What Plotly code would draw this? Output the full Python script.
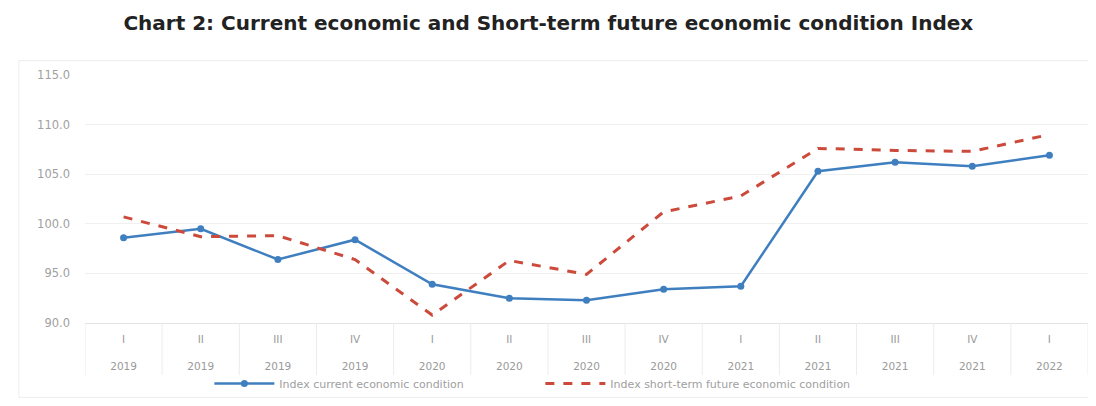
import plotly.graph_objects as go

quarters = ["I", "II", "III", "IV", "I", "II", "III", "IV", "I", "II", "III", "IV", "I"]
years = ["2019", "2019", "2019", "2019", "2020", "2020", "2020", "2020", "2021", "2021", "2021", "2021", "2022"]
current_index = [98.6, 99.5, 96.4, 98.4, 93.9, 92.5, 92.3, 93.4, 93.7, 105.3, 106.2, 105.8, 106.9]
future_index = [100.7, 98.7, 98.8, 96.4, 90.8, 96.3, 94.9, 101.2, 102.8, 107.6, 107.4, 107.3, 109.0]
y_ticks = [90, 95, 100, 105, 110, 115]

x = list(range(len(quarters)))
ticktext = [f"{q}<br><br>{y}" for q, y in zip(quarters, years)]

fig = go.Figure()
fig.add_trace(go.Scatter(
    x=x, y=current_index, mode="lines+markers",
    name="Index current economic condition",
    line=dict(color="#3f7fbf", width=2.5),
    marker=dict(size=7, color="#3f7fbf"),
))
fig.add_trace(go.Scatter(
    x=x, y=future_index, mode="lines",
    name="Index short-term future economic condition",
    line=dict(color="#cc4a3c", width=3, dash="dash"),
))

shapes = []
for i in range(len(quarters) + 1):
    shapes.append(dict(type="line", xref="x", yref="paper",
                       x0=i - 0.5, x1=i - 0.5, y0=0, y1=-0.21,
                       line=dict(color="#ececec", width=1)))
shapes.append(dict(type="rect", xref="paper", yref="paper",
                   x0=-0.066, x1=1.002, y0=-0.30, y1=1.058,
                   line=dict(color="#eeeeee", width=1), layer="below"))

fig.update_layout(
    width=1096, height=406,
    margin=dict(l=77, r=16, t=67, b=91, autoexpand=False),
    paper_bgcolor="white", plot_bgcolor="white",
    title=dict(text="<b>Chart 2: Current economic and Short-term future economic condition Index</b>",
               x=0.493, xanchor="center", y=0.963, yanchor="middle",
               font=dict(family="DejaVu Sans, sans-serif", size=20, color="#222222")),
    showlegend=True,
    legend=dict(orientation="h", x=0.454, xanchor="center", y=-0.185, yanchor="top",
                bgcolor="rgba(0,0,0,0)",
                font=dict(family="DejaVu Sans, sans-serif", size=11, color="#a0a0a0"),
                itemwidth=60, tracegroupgap=0, entrywidth=256),
    shapes=shapes,
    xaxis=dict(
        tickmode="array", tickvals=x, ticktext=ticktext,
        range=[-0.5, len(quarters) - 0.5],
        showgrid=False, zeroline=False, automargin=False,
        showline=True, linecolor="#e4e4e4", linewidth=1,
        ticks="", ticklabelstandoff=6,
        tickfont=dict(family="DejaVu Sans, sans-serif", size=10.5, color="#9a9a9a"),
    ),
    yaxis=dict(
        tickmode="array", tickvals=y_ticks,
        ticktext=[f"{v:.1f}" for v in y_ticks],
        range=[90, 115], automargin=False,
        showgrid=True, gridcolor="#f0f0f0", gridwidth=1,
        zeroline=False, showline=False, ticks="",
        tickfont=dict(family="DejaVu Sans, sans-serif", size=11.5, color="#a0a0a0"),
        ticklabelstandoff=14,
    ),
)

fig.write_html("out.html")
